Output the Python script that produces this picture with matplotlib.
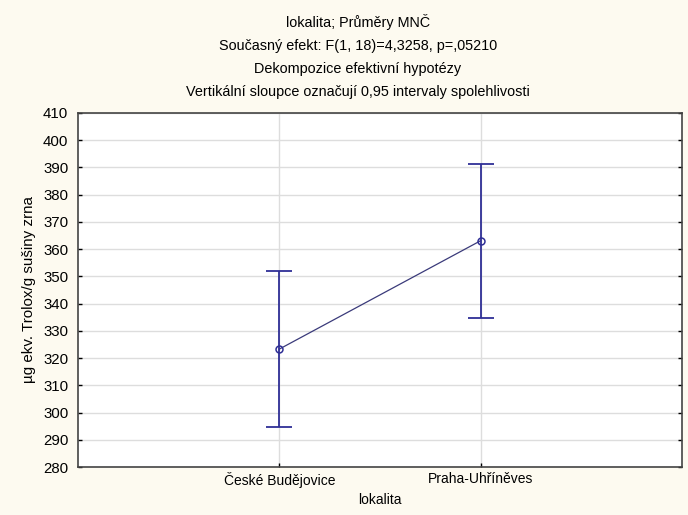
import matplotlib.pyplot as plt
import numpy as np

plt.rcParams['font.family'] = ['Liberation Sans', 'DejaVu Sans']

# průměry a poloviční šířky 95% intervalů spolehlivosti
lokality = ['České Budějovice', 'Praha-Uhříněves']
prumery = [323.3, 363.1]
ci_half = [28.5, 28.3]

title_lines = [
    'lokalita; Průměry MNČ',
    'Současný efekt: F(1, 18)=4,3258, p=,05210',
    'Dekompozice efektivní hypotézy',
    'Vertikální sloupce označují 0,95 intervaly spolehlivosti',
]

bg = '#fdfaf0'
navy = '#2f2f96'

fig = plt.figure(figsize=(6.88, 5.15), dpi=100, facecolor=bg)
ax = fig.add_axes([78 / 688, 1 - 467 / 515, 604 / 688, 354 / 515])
ax.set_facecolor('white')

x = np.arange(1, len(lokality) + 1)
ax.plot(x, prumery, color='#3a3a7a', lw=0.9, zorder=3)
ax.errorbar(x, prumery, yerr=ci_half, fmt='none', ecolor=navy,
            elinewidth=1.3, capsize=9.5, capthick=1.3, zorder=4)
ax.plot(x, prumery, 'o', ms=5, mfc='none', mec=navy, mew=1.1, zorder=5)

ax.set_xlim(0, 3)
ax.set_ylim(280, 410)
ax.set_yticks(np.arange(280, 411, 10))
ax.set_xticks(x)
ax.set_xticklabels(lokality, fontsize=10)
ax.tick_params(axis='y', labelsize=10.8, direction='in', length=3,
               right=True, width=1, pad=7)
ax.tick_params(axis='x', direction='in', length=3, width=1)
ax.grid(True, color='#dddddd', lw=1)
ax.set_axisbelow(True)
for s in ax.spines.values():
    s.set_color('#444444')
    s.set_linewidth(1.2)

ax.set_ylabel('µg ekv. Trolox/g sušiny zrna', fontsize=10.9, labelpad=5)
ax.set_xlabel('lokalita', fontsize=10, labelpad=4)

for i, line in enumerate(title_lines):
    fig.text(358 / 688, 1 - (22.5 + 23.2 * i) / 515, line, ha='center',
             va='center', fontsize=10.4)

fig.savefig('out.png', dpi=100, facecolor=bg)
